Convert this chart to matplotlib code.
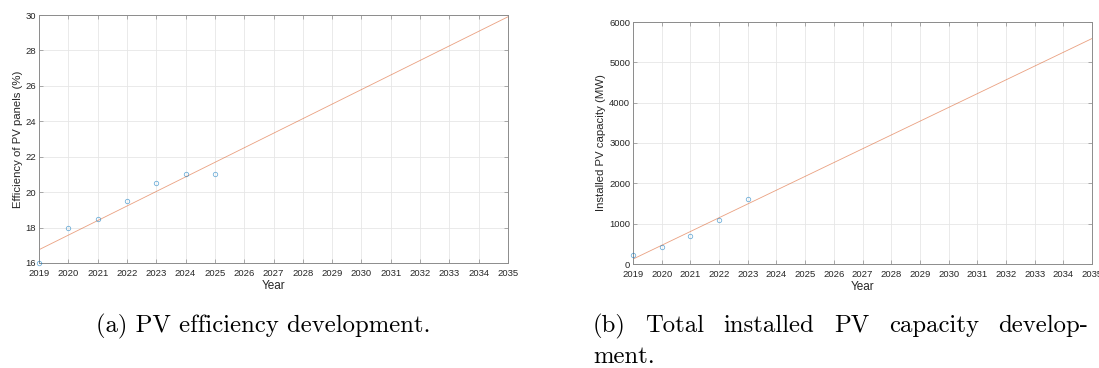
import matplotlib
matplotlib.use("Agg")
import matplotlib.pyplot as plt

# data
years_eff = [2019, 2020, 2021, 2022, 2023, 2024, 2025]
efficiency = [16.0, 18.0, 18.5, 19.5, 20.5, 21.0, 21.0]
fit_years = [2019, 2035]
fit_eff = [16.75, 29.9]

years_cap = [2019, 2020, 2021, 2022, 2023]
capacity = [230, 410, 700, 1090, 1600]
fit_cap = [122, 5590]

year_ticks = list(range(2019, 2036))

plt.rcParams['font.family'] = ['Liberation Sans', 'DejaVu Sans']

BLUE = '#0072BD'
ORANGE = '#D95319'
TXT = '#262626'

fig = plt.figure(figsize=(10.99, 3.68), dpi=100)
W, H = 1099, 368


def px_axes(l, r, t, b):
    return fig.add_axes([l / W, 1 - b / H, (r - l) / W, (b - t) / H])


def style(ax, ylim, yticks, ylabel):
    ax.set_xlim(2019, 2035)
    ax.set_ylim(*ylim)
    ax.set_xticks(year_ticks)
    ax.set_yticks(yticks)
    ax.grid(True, color='#e6e6e6', linewidth=0.6)
    ax.set_axisbelow(True)
    ax.tick_params(direction='in', length=3, width=0.5, colors='#8c8c8c',
                   labelcolor=TXT, labelsize=6.8, pad=2, top=True, right=True)
    ax.tick_params(axis='x', pad=4)
    for s in ax.spines.values():
        s.set_color('#8c8c8c')
        s.set_linewidth(0.7)
    ax.set_xlabel('Year', fontsize=8.5, color=TXT, labelpad=2)
    ax.set_ylabel(ylabel, fontsize=8.2, color=TXT, labelpad=2)


ax1 = px_axes(39, 508, 15, 263)
ax1.plot(fit_years, fit_eff, color=ORANGE, linewidth=0.6, alpha=0.55)
ax1.plot(years_eff, efficiency, 'o', mfc='none', mec=BLUE, mew=0.6,
         markersize=3.2, alpha=0.55, clip_on=False, zorder=4)
style(ax1, (16, 30), range(16, 31, 2), 'Efficiency of PV panels (%)')

ax2 = px_axes(633, 1092, 22, 264)
ax2.plot(fit_years, fit_cap, color=ORANGE, linewidth=0.6, alpha=0.55)
ax2.plot(years_cap, capacity, 'o', mfc='none', mec=BLUE, mew=0.6,
         markersize=3.2, alpha=0.55, clip_on=False, zorder=4)
style(ax2, (0, 6000), range(0, 6001, 1000), 'Installed PV capacity (MW)')

# captions (serif, LaTeX-like); line (b) justified between x0 and x1
cap_kw = dict(family='cmr10', fontsize=17.8, color='black', va='baseline')
fig.text(263 / W, 1 - 332 / H, '(a) PV efficiency development.', ha='center', **cap_kw)

words_b = ['(b)', 'Total', 'installed', 'PV', 'capacity', 'develop-']
x0, x1 = 593, 1088
renderer = fig.canvas.get_renderer()
items = [fig.text(0, 1 - 332 / H, w, ha='left', **cap_kw) for w in words_b]
widths = [t.get_window_extent(renderer).width for t in items]
gap = (x1 - x0 - sum(widths)) / (len(words_b) - 1)
x = x0
for t, w in zip(items, widths):
    t.set_x(x / W)
    x += w + gap
fig.text(x0 / W, 1 - 363 / H, 'ment.', ha='left', **cap_kw)

fig.savefig('out.png', dpi=100)
